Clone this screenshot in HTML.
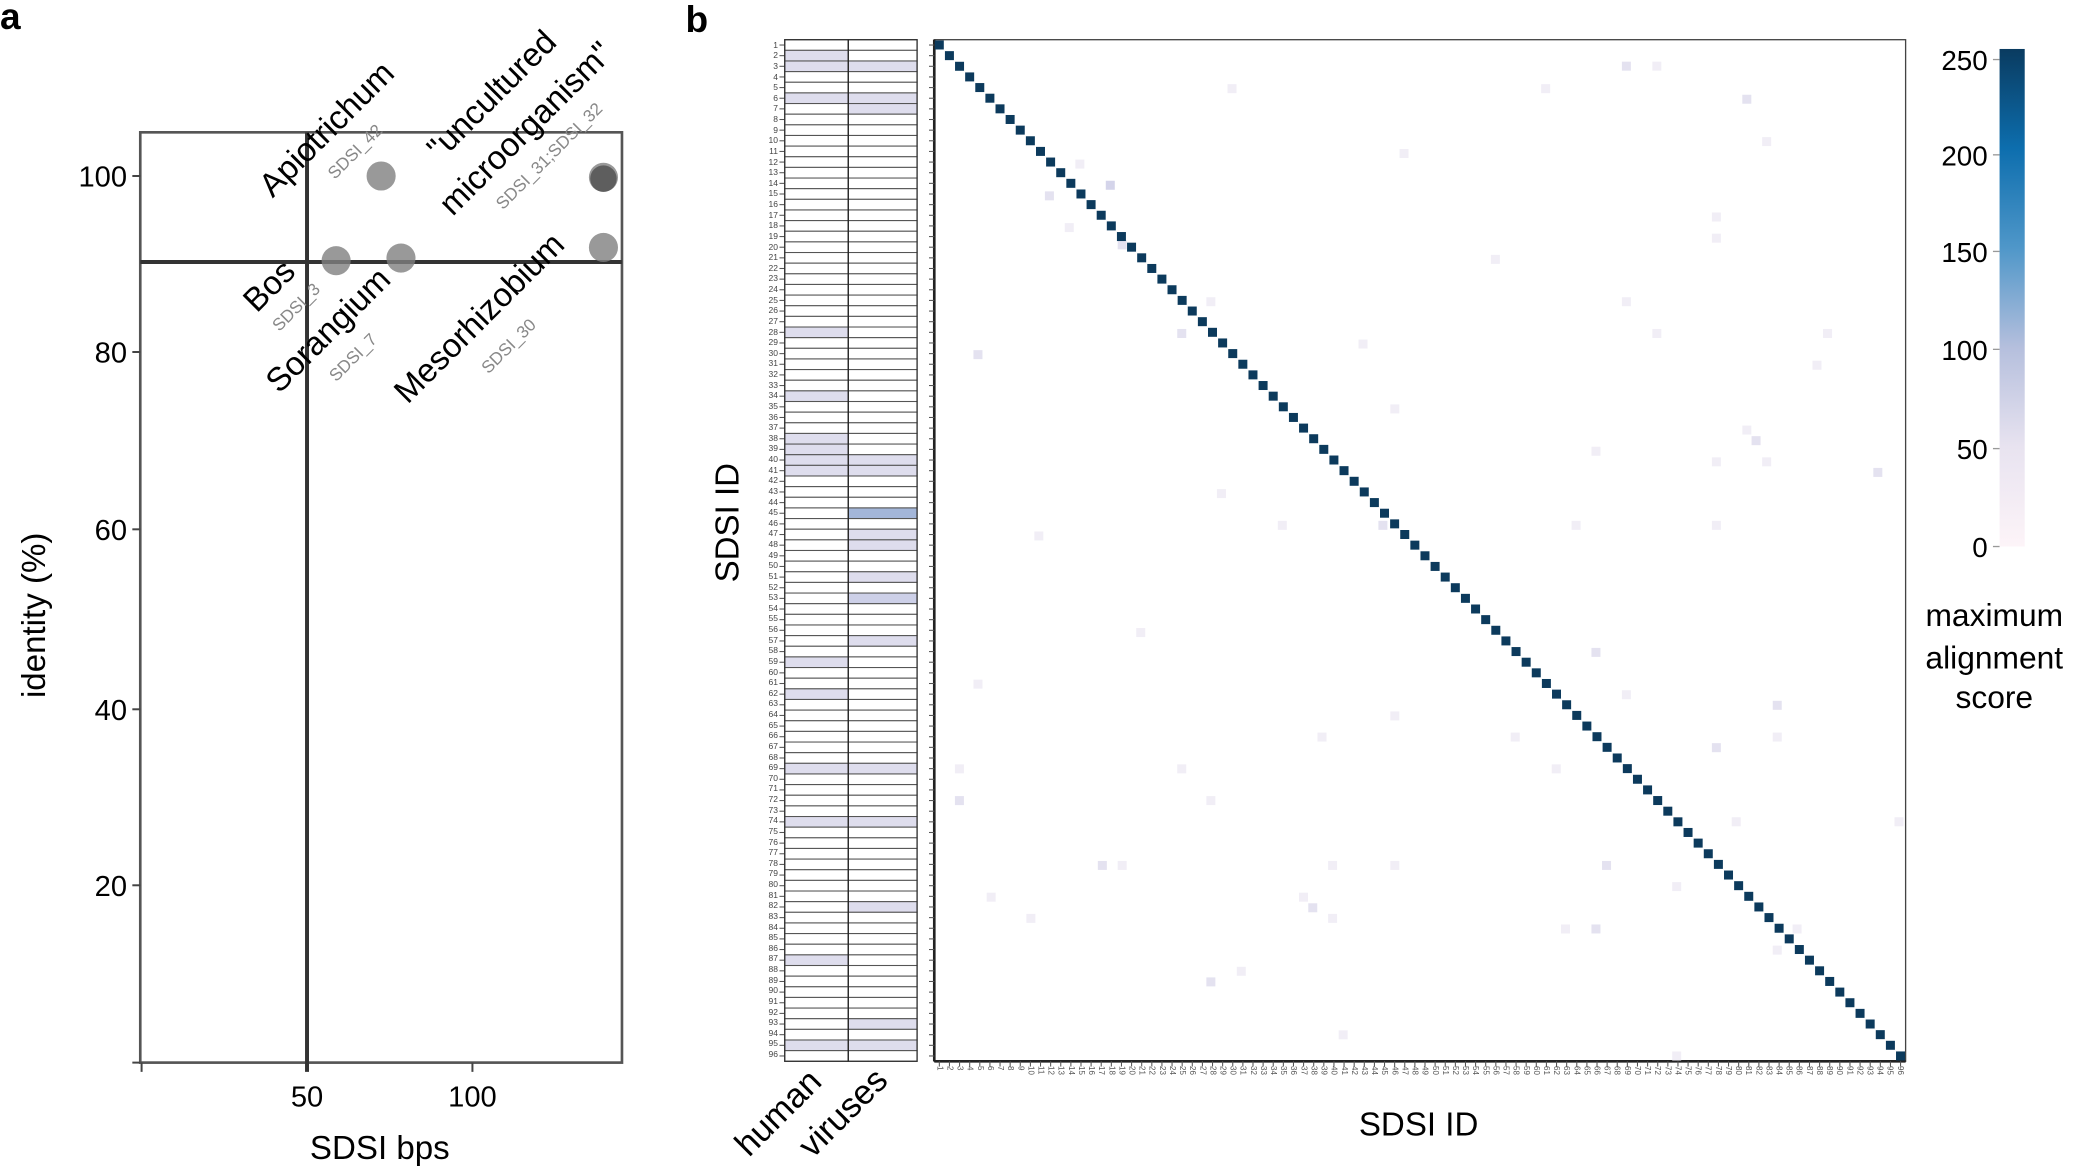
<!DOCTYPE html>
<html><head><meta charset="utf-8">
<style>
html,body{margin:0;padding:0;background:#fff;}
#wrap{position:relative;width:2075px;height:1169px;overflow:hidden;font-family:"Liberation Sans",sans-serif;}
svg{position:absolute;left:0;top:0;}
#ylab{position:absolute;left:740px;top:39.7px;width:38px;text-align:right;font-size:8.5px;color:#444;font-family:"Liberation Sans Narrow","Liberation Sans",sans-serif;}
#ylab div{height:10.64px;line-height:10.64px;}
#xlab{position:absolute;left:934.3px;top:1066px;display:flex;font-size:8px;color:#555;}
#xlab div{width:10.12px;writing-mode:vertical-rl;text-align:left;line-height:10.12px;}
</style></head><body><div id="wrap">
<svg width="2075" height="1169" viewBox="0 0 1568 883.4" preserveAspectRatio="none" xmlns="http://www.w3.org/2000/svg">
<g font-family="Liberation Sans, sans-serif">
<text x="0" y="22" font-size="28" font-weight="bold">a</text>
<text x="518" y="24" font-size="28" font-weight="bold">b</text>
<rect x="106" y="100" width="364" height="703" fill="none" stroke="#555" stroke-width="2"/>
<line x1="232" y1="100" x2="232" y2="810" stroke="#333" stroke-width="3"/>
<line x1="106" y1="198" x2="470" y2="198" stroke="#333" stroke-width="3"/>
<g stroke="#444" stroke-width="1.5">
<line x1="100" y1="133" x2="106" y2="133"/><line x1="100" y1="266" x2="106" y2="266"/>
<line x1="100" y1="400" x2="106" y2="400"/><line x1="100" y1="536" x2="106" y2="536"/>
<line x1="100" y1="669" x2="106" y2="669"/><line x1="100" y1="803" x2="106" y2="803"/>
<line x1="107" y1="803" x2="107" y2="810"/><line x1="357" y1="803" x2="357" y2="810"/>
</g>
<g font-family="Liberation Sans Narrow, Liberation Sans, sans-serif" font-size="22" text-anchor="end">
<text x="96" y="141">100</text><text x="96" y="274">80</text><text x="96" y="408">60</text>
<text x="96" y="544">40</text><text x="96" y="677">20</text>
<text x="232" y="836" text-anchor="middle">50</text><text x="357" y="836" text-anchor="middle">100</text>
</g>
<text x="287" y="876" font-size="25" text-anchor="middle" font-family="Liberation Sans Narrow, Liberation Sans, sans-serif">SDSI bps</text>
<text transform="translate(34,465) rotate(-90)" font-size="25" text-anchor="middle" font-family="Liberation Sans Narrow, Liberation Sans, sans-serif">identity (%)</text>
<g fill="#808080" fill-opacity="0.8">
<circle cx="254" cy="197" r="11"/><circle cx="303" cy="195" r="11"/>
<circle cx="288" cy="133" r="11"/><circle cx="456" cy="134" r="11"/>
<circle cx="456" cy="135" r="10" fill="#444" fill-opacity="0.7"/><circle cx="456" cy="187" r="11"/>
</g>
<g font-size="25">
<text transform="translate(206,150) rotate(-45)">Apiotrichum</text>
<text transform="translate(333,122) rotate(-45)">"uncultured</text>
<text transform="translate(342,164) rotate(-45)">microorganism"</text>
<text transform="translate(194,237) rotate(-45)">Bos</text>
<text transform="translate(211,298) rotate(-45)">Sorangium</text>
<text transform="translate(308,306) rotate(-45)">Mesorhizobium</text>
</g>
<g font-size="13" fill="#888">
<text transform="translate(253,136) rotate(-45)">SDSI_42</text>
<text transform="translate(380,159) rotate(-45)">SDSI_31;SDSI_32</text>
<text transform="translate(211,251) rotate(-45)">SDSI_3</text>
<text transform="translate(254,289) rotate(-45)">SDSI_7</text>
<text transform="translate(369,283) rotate(-45)">SDSI_30</text>
</g>
<g id="tbl"></g>
<rect x="593" y="30" width="100" height="772" fill="none" stroke="#333" stroke-width="1"/>
<line x1="641" y1="30" x2="641" y2="802" stroke="#222" stroke-width="1"/>
<text transform="translate(558,395) rotate(-90)" font-size="25" text-anchor="middle">SDSI ID</text>
<text transform="translate(566,875) rotate(-45)" font-size="26">human</text>
<text transform="translate(614,876) rotate(-45)" font-size="26">viruses</text>
<rect x="706" y="30" width="734" height="772" fill="none" stroke="#444" stroke-width="1"/>
<line x1="706" y1="30" x2="706" y2="802" stroke="#222" stroke-width="2"/>
<line x1="706" y1="802" x2="1440" y2="802" stroke="#222" stroke-width="2"/>
<g id="hm"></g>
<text x="1072" y="858" font-size="25" text-anchor="middle" font-family="Liberation Sans Narrow, Liberation Sans, sans-serif">SDSI ID</text>
<defs><linearGradient id="cb" x1="0" y1="1" x2="0" y2="0">
<stop offset="0" stop-color="#fdf4f8"/><stop offset="0.2" stop-color="#e8e3f0"/>
<stop offset="0.4" stop-color="#b5bfdd"/><stop offset="0.6" stop-color="#4f97c9"/>
<stop offset="0.8" stop-color="#0d6eae"/><stop offset="1" stop-color="#0a3b60"/>
</linearGradient></defs>
<rect x="1511" y="37" width="19" height="376" fill="url(#cb)"/>
<g stroke="#999" stroke-width="1">
<line x1="1506" y1="45" x2="1511" y2="45"/><line x1="1506" y1="117" x2="1511" y2="117"/>
<line x1="1506" y1="190" x2="1511" y2="190"/><line x1="1506" y1="264" x2="1511" y2="264"/>
<line x1="1506" y1="339" x2="1511" y2="339"/><line x1="1506" y1="413" x2="1511" y2="413"/>
</g>
<g font-size="21" text-anchor="end">
<text x="1502" y="53">250</text><text x="1502" y="125">200</text><text x="1502" y="198">150</text>
<text x="1502" y="272">100</text><text x="1502" y="347">50</text><text x="1502" y="421">0</text>
</g>
<g font-size="24" text-anchor="middle">
<text x="1507" y="473">maximum</text><text x="1507" y="505">alignment</text><text x="1507" y="535">score</text>
</g>
</g>
</svg>
<div id="ylab"><div>1</div><div>2</div><div>3</div><div>4</div><div>5</div><div>6</div><div>7</div><div>8</div><div>9</div><div>10</div><div>11</div><div>12</div><div>13</div><div>14</div><div>15</div><div>16</div><div>17</div><div>18</div><div>19</div><div>20</div><div>21</div><div>22</div><div>23</div><div>24</div><div>25</div><div>26</div><div>27</div><div>28</div><div>29</div><div>30</div><div>31</div><div>32</div><div>33</div><div>34</div><div>35</div><div>36</div><div>37</div><div>38</div><div>39</div><div>40</div><div>41</div><div>42</div><div>43</div><div>44</div><div>45</div><div>46</div><div>47</div><div>48</div><div>49</div><div>50</div><div>51</div><div>52</div><div>53</div><div>54</div><div>55</div><div>56</div><div>57</div><div>58</div><div>59</div><div>60</div><div>61</div><div>62</div><div>63</div><div>64</div><div>65</div><div>66</div><div>67</div><div>68</div><div>69</div><div>70</div><div>71</div><div>72</div><div>73</div><div>74</div><div>75</div><div>76</div><div>77</div><div>78</div><div>79</div><div>80</div><div>81</div><div>82</div><div>83</div><div>84</div><div>85</div><div>86</div><div>87</div><div>88</div><div>89</div><div>90</div><div>91</div><div>92</div><div>93</div><div>94</div><div>95</div><div>96</div></div>
<div id="xlab"><div>1</div><div>2</div><div>3</div><div>4</div><div>5</div><div>6</div><div>7</div><div>8</div><div>9</div><div>10</div><div>11</div><div>12</div><div>13</div><div>14</div><div>15</div><div>16</div><div>17</div><div>18</div><div>19</div><div>20</div><div>21</div><div>22</div><div>23</div><div>24</div><div>25</div><div>26</div><div>27</div><div>28</div><div>29</div><div>30</div><div>31</div><div>32</div><div>33</div><div>34</div><div>35</div><div>36</div><div>37</div><div>38</div><div>39</div><div>40</div><div>41</div><div>42</div><div>43</div><div>44</div><div>45</div><div>46</div><div>47</div><div>48</div><div>49</div><div>50</div><div>51</div><div>52</div><div>53</div><div>54</div><div>55</div><div>56</div><div>57</div><div>58</div><div>59</div><div>60</div><div>61</div><div>62</div><div>63</div><div>64</div><div>65</div><div>66</div><div>67</div><div>68</div><div>69</div><div>70</div><div>71</div><div>72</div><div>73</div><div>74</div><div>75</div><div>76</div><div>77</div><div>78</div><div>79</div><div>80</div><div>81</div><div>82</div><div>83</div><div>84</div><div>85</div><div>86</div><div>87</div><div>88</div><div>89</div><div>90</div><div>91</div><div>92</div><div>93</div><div>94</div><div>95</div><div>96</div></div>
</div>
<script>
var NS="http://www.w3.org/2000/svg";
function R(g,x,y,w,h,f,s){var r=document.createElementNS(NS,"rect");r.setAttribute("x",x);r.setAttribute("y",y);r.setAttribute("width",w);r.setAttribute("height",h);r.setAttribute("fill",f);if(s){r.setAttribute("stroke",s);r.setAttribute("stroke-width","0.8");}g.appendChild(r);}
var tbl=document.getElementById("tbl"),rh=772/96;
var hu=[2,3,6,28,34,38,39,40,41,59,62,69,74,87,95],vi=[3,6,7,40,41,47,48,51,53,57,69,74,82,93,95];
for(var i=1;i<=96;i++){var y=30+(i-1)*rh;
 R(tbl,593,y,48,rh,hu.indexOf(i)>=0?"#dedded":"#fff","#555");
 var c=i==45?"#a3b6d9":(i==53?"#cdd0e8":(vi.indexOf(i)>=0?"#dedded":"#fff"));
 R(tbl,641,y,52,rh,c,"#555");
 var t=document.createElementNS(NS,"line");t.setAttribute("x1",589);t.setAttribute("x2",593);t.setAttribute("y1",y+rh/2);t.setAttribute("y2",y+rh/2);t.setAttribute("stroke","#555");t.setAttribute("stroke-width","0.8");tbl.appendChild(t);
}
var hm=document.getElementById("hm"),cw=734/96;
var faint=[[1229,50],[1252,50],[931,67],[1168,67],[1320,75],[1335,107],[1061,116],[816,124],[793,148],[808,172],[1297,164],[1297,180],[848,185],[1130,196],[1229,228],[915,228],[893,252],[1252,252],[1381,252],[1030,260],[739,268],[1373,276],[1054,309],[1320,325],[1327,333],[1335,349],[1206,341],[1297,349],[1419,357],[923,373],[969,397],[1191,397],[1045,397],[1297,397],[785,405],[862,478],[1206,493],[739,517],[1229,525],[1054,541],[1343,533],[1343,557],[1145,557],[999,557],[1297,565],[1176,581],[725,581],[893,581],[725,605],[915,605],[1312,621],[1435,621],[833,654],[848,654],[1007,654],[1054,654],[1214,654],[1267,670],[749,678],[985,678],[992,686],[779,694],[1007,694],[1183,702],[1206,702],[1358,702],[1343,718],[938,734],[915,742],[1015,782],[1267,798]];
faint.forEach(function(p,k){R(hm,p[0]-3.4,p[1]-3.4,6.8,6.8,k%4==0?"#e4e2f0":"#f1eef6");});
R(hm,839-3.4,140-3.4,6.8,6.8,"#d4d4ea");
for(var i=0;i<96;i++){R(hm,706+i*cw+0.4,30+i*rh+0.6,6.8,6.8,"#0c3a5c");
 var t=document.createElementNS(NS,"line");t.setAttribute("x1",706+(i+0.5)*cw);t.setAttribute("x2",706+(i+0.5)*cw);t.setAttribute("y1",802);t.setAttribute("y2",806);t.setAttribute("stroke","#555");t.setAttribute("stroke-width","0.8");hm.appendChild(t);
 var u=document.createElementNS(NS,"line");u.setAttribute("x1",702);u.setAttribute("x2",706);u.setAttribute("y1",30+(i+0.5)*rh);u.setAttribute("y2",30+(i+0.5)*rh);u.setAttribute("stroke","#555");u.setAttribute("stroke-width","0.8");hm.appendChild(u);}
</script>
</body></html>
